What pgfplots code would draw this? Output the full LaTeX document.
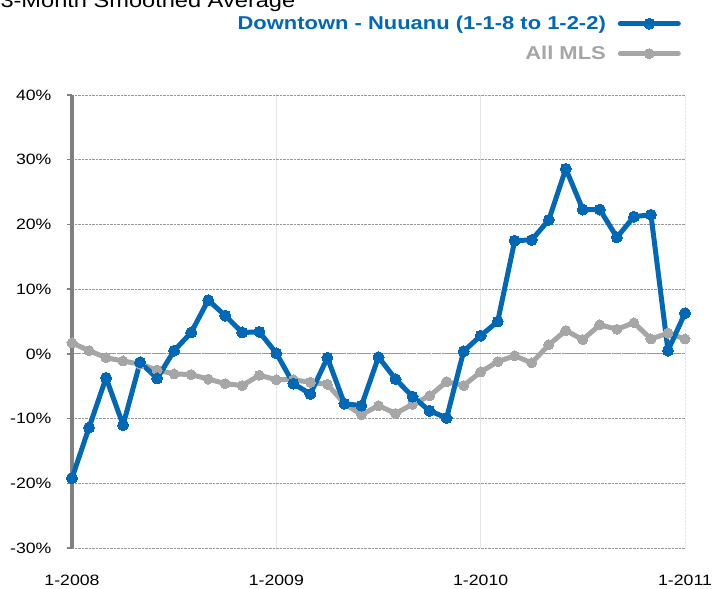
\documentclass[border=0pt]{standalone}
\usepackage{fontspec}
\setmainfont{Liberation Sans}[FakeStretch=1.18]
\usepackage{pgfplots}
\pgfplotsset{compat=1.18}
\definecolor{dtBlue}{HTML}{0068B4}
\definecolor{mlsGray}{HTML}{A6A6A6}
\definecolor{axGray}{HTML}{808080}

\begin{document}
\begin{tikzpicture}
\begin{axis}[
  set layers,
  at={(0,0)}, anchor=south west,
  scale only axis,
  width=613bp, height=453bp,
  xmin=0, xmax=36, ymin=-30, ymax=40,
  clip=false,
  axis lines*=left,
  x axis line style={draw=none},
  y axis line style={draw=axGray, line width=3bp},
  xtick={0,12,24},
  xticklabels={1-2008,1-2009,1-2010},
  extra x ticks={36},
  extra x tick labels={1-2011},
  extra x tick style={grid style={draw=gray!80, densely dotted, line width=0.8bp}},
  ytick={-30,-20,...,40},
  yticklabel={\pgfmathprintnumber{\tick}\%},
  extra y ticks={0},
  extra y tick labels={},
  extra y tick style={grid style={draw=axGray, line width=4bp}, major tick length=0pt},
  /pgf/number format/assume math mode=true,
  tick label style={font=\fontsize{15bp}{18bp}\selectfont, black},
  xtick style={draw=none},
  ytick style={draw=axGray, line width=1.5bp},
  tick align=outside,
  major tick length=5bp,
  yticklabel style={xshift=-12bp},
  xticklabel style={yshift=-19bp},
  xmajorgrids=true,
  ymajorgrids=true,
  x grid style={draw=gray!20, line width=0.6bp},
  y grid style={draw=gray!80, densely dotted, line width=0.8bp},
  reverse legend,
  legend plot pos=right,
  legend cell align=right,
  legend style={draw=none, fill=none, at={(rel axis cs:1,1)}, anchor=north east,
    xshift=-1bp, yshift=83bp, row sep=11bp, column sep=10bp,
    font=\fontsize{18.6bp}{22bp}\selectfont\bfseries},
  legend image code/.code={
    \draw[mark repeat=2, mark phase=2, #1] plot coordinates {(0bp,0bp) (29bp,0bp) (58bp,0bp)};
  },
]
\addplot[mlsGray, line width=5bp, line join=round, line cap=round, mark=*, mark size=5bp,
  mark options={solid, fill=mlsGray, draw=mlsGray, line width=0bp}]
coordinates {
(0,1.7) (1,0.5) (2,-0.6) (3,-1.1) (4,-1.6) (5,-2.5) (6,-3.1) (7,-3.2) (8,-3.9) (9,-4.6)
(10,-4.9) (11,-3.3) (12,-4.0) (13,-4.0) (14,-4.4) (15,-4.7) (16,-7.7) (17,-9.4) (18,-8.0) (19,-9.2)
(20,-7.8) (21,-6.5) (22,-4.3) (23,-4.9) (24,-2.8) (25,-1.2) (26,-0.3) (27,-1.4) (28,1.4) (29,3.6)
(30,2.2) (31,4.5) (32,3.8) (33,4.8) (34,2.3) (35,3.2) (36,2.3)
};
\addlegendentry{\textcolor{mlsGray}{All MLS}}
\addplot[dtBlue, line width=5bp, line join=round, line cap=round, mark=*, mark size=5.5bp,
  mark options={solid, fill=dtBlue, draw=dtBlue, line width=0bp}]
coordinates {
(0,-19.2) (1,-11.4) (2,-3.7) (3,-11.0) (4,-1.3) (5,-3.8) (6,0.5) (7,3.3) (8,8.3) (9,5.9)
(10,3.3) (11,3.4) (12,0.1) (13,-4.6) (14,-6.2) (15,-0.6) (16,-7.7) (17,-8.0) (18,-0.5) (19,-3.9)
(20,-6.6) (21,-8.8) (22,-9.9) (23,0.4) (24,2.8) (25,5.0) (26,17.5) (27,17.6) (28,20.7) (29,28.6)
(30,22.3) (31,22.3) (32,18.0) (33,21.2) (34,21.5) (35,0.5) (36,6.3)
};
\addlegendentry{\textcolor{dtBlue}{Downtown - Nuuanu (1-1-8 to 1-2-2)}}
\end{axis}
\node[anchor=base west, font=\fontsize{20bp}{24bp}\selectfont] at (-75bp,540bp) {3-Month Smoothed Average};
\pgfresetboundingbox
\useasboundingbox (-72bp,-41bp) rectangle (640bp,548bp);
\end{tikzpicture}
\end{document}
